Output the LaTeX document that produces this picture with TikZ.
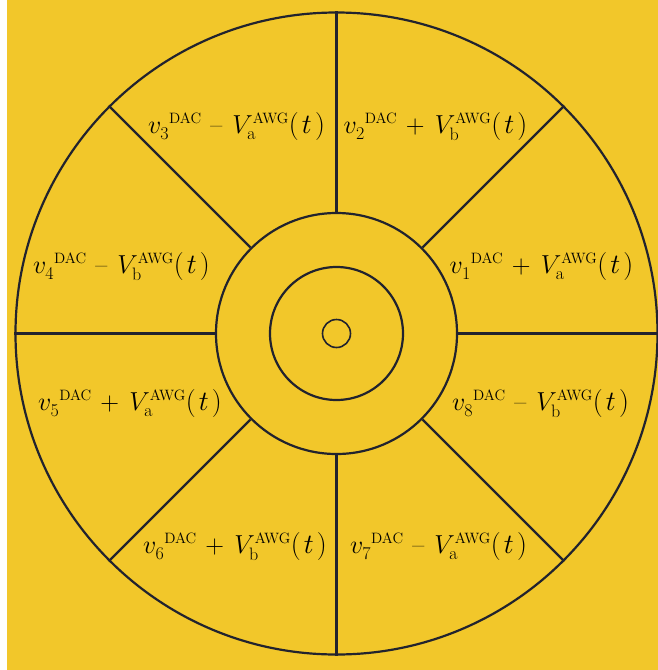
\RequirePackage{fix-cm}
\documentclass[tikz,border=0pt]{standalone}
\usepackage{amsmath}
\DeclareMathSizes{26}{26}{18}{15}
\DeclareMathSizes{28}{28}{19}{15}
\definecolor{bgyellow}{HTML}{F2C72A}
\definecolor{ink}{HTML}{22232E}
\newcommand\argt{\text{\fontsize{28}{30}\selectfont$(\mskip2mu t\mskip2mu)$}}
\newcommand\vlab[3]{$v_{\raisebox{-2.5pt}{$\scriptstyle #1$}}{}^{\scriptscriptstyle\mathrm{DAC}}\mskip2mu #2\mskip3mu V_{\mathrm{#3}}^{\scriptscriptstyle\mathrm{AWG}}\argt$}
\newcommand\pl{+}
\newcommand\mi{\mathbin{\text{--}}}
\begin{document}
\begin{tikzpicture}[x=1pt,y=-1pt,
  ring/.style={draw=ink,line width=2.2pt},
  spoke/.style={draw=ink,line width=2.2pt},
  lbl/.style={inner sep=0pt,anchor=base,font=\fontsize{26}{30}\selectfont}]
\fill[white] (0,0) rectangle (658,670);
\fill[bgyellow] (7,0) rectangle (658,670);
\useasboundingbox (0,0) rectangle (658,670);
\coordinate (c) at (336.5,333.5);
\node[ring,circle,minimum size=642pt,inner sep=0pt] (outer) at (c) {};
\node[ring,circle,minimum size=241pt,inner sep=0pt] (mid) at (c) {};
\node[ring,circle,minimum size=133pt,inner sep=0pt] (inner) at (c) {};
\node[draw=ink,line width=1.6pt,circle,minimum size=28pt,inner sep=0pt] (core) at (c) {};
\foreach \a in {0,45,...,315}{
  \draw[spoke] (mid.\a) -- (outer.\a);
}
\node[lbl] (l3) at (236.5,133) {\vlab{3}{\mi}{a}};
\node[lbl] (l2) at (435.5,133) {\vlab{2}{\pl}{b}};
\node[lbl] (l4) at (121.5,273) {\vlab{4}{\mi}{b}};
\node[lbl] (l1) at (541.5,273) {\vlab{1}{\pl}{a}};
\node[lbl] (l5) at (130,410) {\vlab{5}{\pl}{a}};
\node[lbl] (l8) at (540.5,410) {\vlab{8}{\mi}{b}};
\node[lbl] (l6) at (235,553) {\vlab{6}{\pl}{b}};
\node[lbl] (l7) at (438.5,553) {\vlab{7}{\mi}{a}};
\end{tikzpicture}
\end{document}
